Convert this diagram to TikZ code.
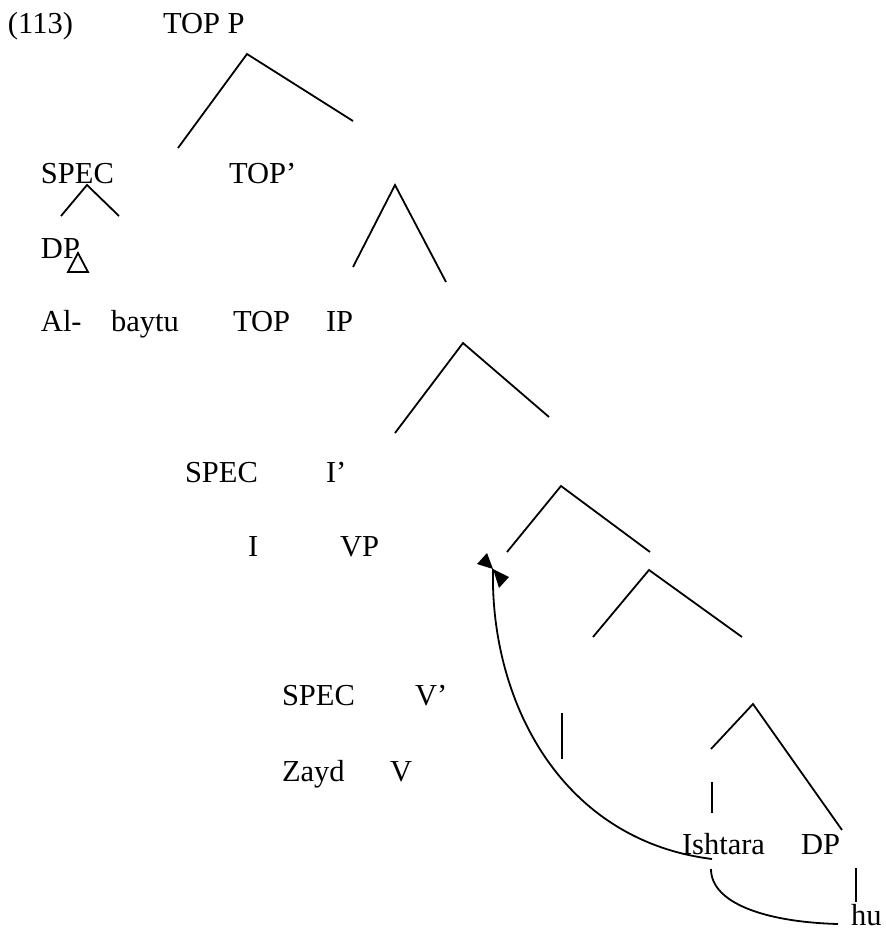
\documentclass[tikz,border=0pt]{standalone}
\usepackage{fontspec}
\setmainfont{Liberation Serif}
\begin{document}
\begin{tikzpicture}[x=1pt,y=-1pt,
  lbl/.style={anchor=base west,inner sep=0pt,outer sep=0pt,font=\fontsize{30.5}{36}\selectfont},
  branch/.style={line width=1.8pt,line cap=butt,line join=miter},
  tipfill/.style={fill=black,draw=none}]
\useasboundingbox (0,0) rectangle (886,930);

% labels
\node[lbl] (num)   at (8,33)    {(113)};
\node[lbl] (topp)  at (163,33)  {TOP P};
\node[lbl] (spec1) at (41,183)  {SPEC};
\node[lbl] (topbar) at (229,183) {TOP’};
\node[lbl] (dp1)   at (41,258)  {DP};
\node[lbl] (al)    at (41,331)  {Al-};
\node[lbl] (baytu) at (111,331) {baytu};
\node[lbl] (top)   at (233,331) {TOP};
\node[lbl] (ip)    at (326,331) {IP};
\node[lbl] (spec2) at (185,482) {SPEC};
\node[lbl] (ibar)  at (326,482) {I’};
\node[lbl] (i)     at (248,556) {I};
\node[lbl] (vp)    at (340,556) {VP};
\node[lbl] (spec3) at (282,705) {SPEC};
\node[lbl] (vbar)  at (415,705) {V’};
\node[lbl] (zayd)  at (282,781) {Zayd};
\node[lbl] (v)     at (390,781) {V};
\node[lbl] (ish)   at (682,854) {Ishtara};
\node[lbl] (dp2)   at (801,854) {DP};
\node[lbl] (hu)    at (851,925) {hu};

% branch points
\coordinate (a1) at (247,54);  \coordinate (a1l) at (178,148); \coordinate (a1r) at (353,121);
\coordinate (a2) at (87,185);  \coordinate (a2l) at (61,216);  \coordinate (a2r) at (119,216);
\coordinate (a3) at (395,185); \coordinate (a3l) at (353,267); \coordinate (a3r) at (446,282);
\coordinate (a4) at (463,343); \coordinate (a4l) at (395,433); \coordinate (a4r) at (549,417);
\coordinate (a5) at (561,486); \coordinate (a5l) at (507,552); \coordinate (a5r) at (650,552);
\coordinate (a6) at (649,570); \coordinate (a6l) at (593,637); \coordinate (a6r) at (742,637);
\coordinate (a7) at (753,704); \coordinate (a7l) at (711,749); \coordinate (a7r) at (842,830);

\foreach \n in {a1,a2,a3,a4,a5,a6,a7}
  \draw[branch] (\n l) -- (\n) -- (\n r);

% triangle under DP
\coordinate (tri) at (78,253);
\draw[branch] (tri) -- (68,272) -- (88,272) -- cycle;

% single vertical branches
\coordinate (s1t) at (562,713); \coordinate (s1b) at (562,759);
\coordinate (s2t) at (712,782); \coordinate (s2b) at (712,813);
\coordinate (s3t) at (856,868); \coordinate (s3b) at (856,902);
\draw[branch] (s1t) -- (s1b);
\draw[branch] (s2t) -- (s2b);
\draw[branch] (s3t) -- (s3b);

% movement curves
\coordinate (mvtip) at (493,569);
\coordinate (mvfoot) at (712,859);
\draw[branch] (mvfoot) .. controls (560,840) and (490,700) .. (mvtip);
\coordinate (cl1) at (711,869);
\coordinate (cl2) at (838,924);
\draw[branch] (cl1) .. controls (711,903) and (765,922) .. (cl2);

% arrow tip at the top of the movement curve
\fill[tipfill] (477,564) -- (487,553) -- (mvtip) -- cycle;
\fill[tipfill] (mvtip) -- (509,577) -- (499,588) -- cycle;
\end{tikzpicture}
\end{document}
